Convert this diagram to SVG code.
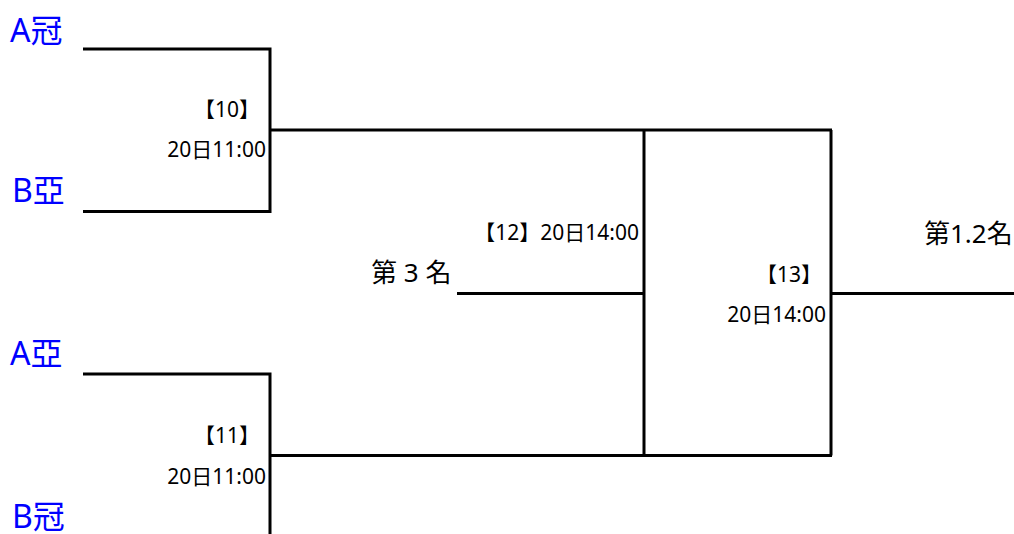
<svg xmlns="http://www.w3.org/2000/svg" width="1014" height="534" viewBox="0 0 1014 534">
<style>
text{font-family:"Noto Sans","Noto Sans CJK TC",sans-serif;}
.team{font-size:32px;fill:#0000ff;}
.lbl{font-size:21px;fill:#000;}
.big{font-size:26px;fill:#000;}
.ln{stroke:#000;stroke-width:3;fill:none;}
</style>
<rect width="1014" height="534" fill="#fff"/>
<g id="connectors">
<polyline class="ln" points="83,49 270,49 270,211.5 83,211.5"/>
<line class="ln" x1="270" y1="130" x2="832" y2="130"/>
<polyline class="ln" points="83,374 270,374 270,534"/>
<line class="ln" x1="270" y1="455.5" x2="832" y2="455.5"/>
<line class="ln" x1="644" y1="130" x2="644" y2="455.5"/>
<line class="ln" x1="831" y1="130" x2="831" y2="455.5"/>
<line class="ln" x1="457" y1="293.5" x2="644" y2="293.5"/>
<line class="ln" x1="831" y1="293.5" x2="1014" y2="293.5"/>
</g>
<g id="team-a1"><text class="team" x="10" y="42">A冠</text></g>
<g id="team-b2"><text class="team" x="12" y="202">B亞</text></g>
<g id="team-a2"><text class="team" x="10" y="365">A亞</text></g>
<g id="team-b1"><text class="team" x="12" y="528">B冠</text></g>
<g id="match-10">
<text class="lbl" x="260" y="117" text-anchor="end">【10】</text>
<text class="lbl" x="266" y="157" text-anchor="end">20日11:00</text>
</g>
<g id="match-11">
<text class="lbl" x="260" y="443" text-anchor="end">【11】</text>
<text class="lbl" x="266" y="484" text-anchor="end">20日11:00</text>
</g>
<g id="match-12">
<text class="lbl" x="639" y="240" text-anchor="end">【12】20日14:00</text>
<text class="big" x="371" y="282">第 3 名</text>
</g>
<g id="match-13">
<text class="lbl" x="822" y="282" text-anchor="end">【13】</text>
<text class="lbl" x="826" y="322" text-anchor="end">20日14:00</text>
<text class="big" x="924" y="243">第1.2名</text>
</g>
</svg>
